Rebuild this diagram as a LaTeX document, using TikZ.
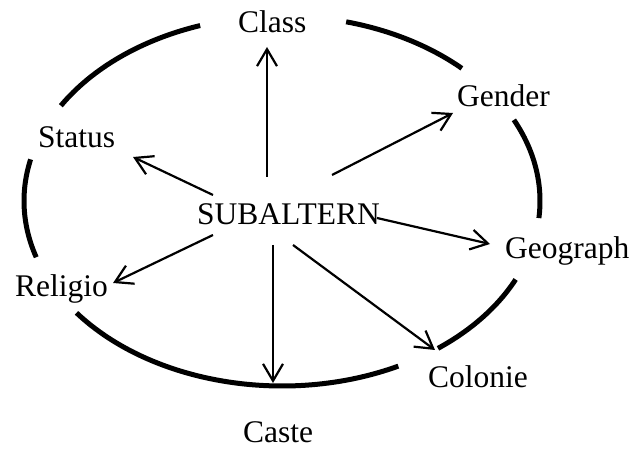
\documentclass[tikz,border=0pt]{standalone}
\usepackage{fontspec}
\setmainfont{Liberation Serif}
\usetikzlibrary{arrows.meta}
\begin{document}
\begin{tikzpicture}[x=1pt,y=1pt,
  lbl/.style={inner sep=0pt,anchor=base west,font=\fontsize{31.5}{36}\selectfont},
  arr/.style={line width=2.2pt,-{Straight Barb[length=17pt,width=20pt,line width=2.2pt]}},
  ell/.style={line width=5pt}]
\useasboundingbox (0,0) rectangle (631,449);
\coordinate (c) at (282,248);
% ellipse arcs
\draw[ell] (c) ++(108.5:258 and 185) arc[start angle=108.5,end angle=149,x radius=258,y radius=185];
\draw[ell] (c) ++(45.8:258 and 185) arc[start angle=45.8,end angle=75.6,x radius=258,y radius=185];
\draw[ell] (c) ++(-5.3:258 and 185) arc[start angle=-5.3,end angle=26,x radius=258,y radius=185];
\draw[ell] (c) ++(-52.8:258 and 185) arc[start angle=-52.8,end angle=-25.1,x radius=258,y radius=185];
\draw[ell] (c) ++(-142.8:258 and 185) arc[start angle=-142.8,end angle=-63.2,x radius=258,y radius=185];
\draw[ell] (c) ++(167:258 and 185) arc[start angle=167,end angle=197.7,x radius=258,y radius=185];
% labels
\node[lbl] (sub) at (197,224) {SUBALTERN};
\node[lbl] (class) at (238,416) {Class};
\node[lbl] (gender) at (457,342) {Gender};
\node[lbl] (status) at (38,301) {Status};
\node[lbl] (religio) at (15,152) {Religio};
\node[lbl] (geo) at (505,190) {Geograph};
\node[lbl] (colonie) at (428,61) {Colonie};
\node[lbl] (caste) at (243,6) {Caste};
% arrow ends
\coordinate (s1) at (267,272); \coordinate (h1) at (267,402);
\coordinate (s2) at (213,254); \coordinate (h2) at (133,292);
\coordinate (s3) at (332,274); \coordinate (h3) at (453,336);
\coordinate (s4) at (377,231); \coordinate (h4) at (490,205);
\coordinate (s5) at (213,214); \coordinate (h5) at (113,166);
\coordinate (s6) at (273,204); \coordinate (h6) at (273,66);
\coordinate (s7) at (293,204); \coordinate (h7) at (435,99);
\draw[arr] (s1) -- (h1);
\draw[arr] (s2) -- (h2);
\draw[arr] (s3) -- (h3);
\draw[arr] (s4) -- (h4);
\draw[arr] (s5) -- (h5);
\draw[arr] (s6) -- (h6);
\draw[arr] (s7) -- (h7);
\end{tikzpicture}
\end{document}
